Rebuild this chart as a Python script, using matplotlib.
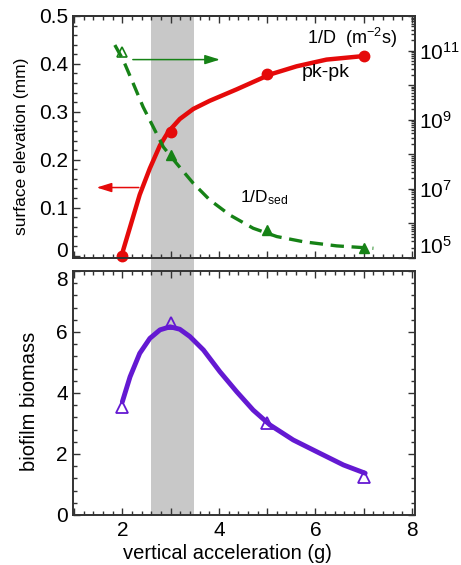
import numpy as np
import matplotlib
matplotlib.use("Agg")
import matplotlib.pyplot as plt
from matplotlib.ticker import MultipleLocator, FuncFormatter, LogLocator, NullFormatter
from matplotlib.transforms import ScaledTranslation

plt.rcParams['font.family'] = ['Liberation Sans', 'DejaVu Sans']
plt.rcParams['mathtext.fontset'] = 'custom'
plt.rcParams['mathtext.rm'] = 'Liberation Sans'
plt.rcParams['mathtext.it'] = 'Liberation Sans:italic'

# Datos medidos
accel = [2, 3, 5, 7]
pkpk = [0.0, 0.258, 0.378, 0.417]                 # mm
inv_D = [10**10.96, 10**7.98, 10**5.81, 10**5.29]  # m^-2 s
biomass = [3.55, 6.29, 3.01, 1.26]

# Curvas de ajuste
pk_fit_x = [1.984, 2.156, 2.36, 2.57, 2.78, 2.95, 3.19, 3.47, 3.81, 4.37, 5.06, 5.61, 6.23, 7.06]
pk_fit_y = [0.0, 0.058, 0.127, 0.182, 0.230, 0.258, 0.285, 0.306, 0.323, 0.347, 0.378, 0.395, 0.409, 0.417]

d_fit_x = [1.845, 2.02, 2.225, 2.43, 2.64, 2.85, 3.12, 3.47, 3.81, 4.23, 4.71, 5.20, 5.75, 6.44, 7.20]
d_fit_log = [11.16, 10.72, 10.05, 9.37, 8.79, 8.21, 7.74, 7.16, 6.68, 6.24, 5.86, 5.62, 5.47, 5.35, 5.28]

bio_fit_x = [2.0, 2.16, 2.36, 2.57, 2.78, 2.99, 3.19, 3.40, 3.68, 4.02, 4.37, 4.71, 5.06, 5.54, 6.02, 6.58, 7.03]
bio_fit_y = [3.71, 4.53, 5.30, 5.79, 6.07, 6.17, 6.09, 5.85, 5.41, 4.70, 4.04, 3.44, 2.95, 2.46, 2.08, 1.64, 1.37]

band = (2.6, 3.48)

red = "#e50a0a"
green = "#168216"
purple = "#6419d2"
spine_c = "#333333"

fig = plt.figure(figsize=(4.61, 5.65), dpi=100)
ax1 = fig.add_axes([0.158, 0.5434, 0.742, 0.4283])
ax3 = fig.add_axes([0.158, 0.0885, 0.742, 0.4319])
ax2 = ax1.twinx()

# Banda gris
ax1.axvspan(*band, ymin=-0.06, ymax=1, color="#c8c8c8", lw=0, zorder=0, clip_on=False)
ax3.axvspan(*band, color="#c8c8c8", lw=0, zorder=0)

# Panel superior: elevacion pk-pk
ax1.plot(pk_fit_x, pk_fit_y, color=red, lw=3.2, solid_capstyle="round", solid_joinstyle="round", zorder=3)
ax1.plot(accel, pkpk, "o", color=red, ms=7.5, zorder=4, clip_on=False)
ax1.annotate("", xy=(1.41, 0.142), xytext=(2.40, 0.142),
             arrowprops=dict(arrowstyle="-|>,head_length=0.9,head_width=0.28", color=red, lw=1.1))

# 1/D en eje logaritmico
ax2.plot(d_fit_x, 10**np.array(d_fit_log), "--", color=green, lw=2.4, dashes=(4, 2.3), zorder=3)
ax2.plot(accel[:1], inv_D[:1], "^", mfc="none", mec=green, ms=7, mew=1.2)
ax2.plot(accel[1:], inv_D[1:], "^", color=green, ms=7, clip_on=False)
ax1.annotate("", xy=(4.08, 0.409), xytext=(2.16, 0.409),
             arrowprops=dict(arrowstyle="-|>,head_length=0.9,head_width=0.28", color=green, lw=1.1))

ax1.text(5.82, 0.455, "1/D  (m$^{-2}$s)", fontsize=13, va="center")
ax1.text(5.72, 0.382, "pk-pk", fontsize=14, va="center")
ax1.text(4.44, 0.12, "1/D$_{\\mathrm{sed}}$", fontsize=12.5, va="center")

ax1.set_xlim(0.975, 8.06)
ax1.set_ylim(-0.005, 0.5)
ax2.set_ylim(1e5, 1e12)
ax2.set_yscale("log")
ax1.set_ylabel("surface elevation (mm)", fontsize=12.5)
ax1.yaxis.label.set_va("center")
ax1.yaxis.set_label_coords(-0.15, 0.463)
ax1.yaxis.set_major_locator(MultipleLocator(0.1))
ax1.yaxis.set_minor_locator(MultipleLocator(0.02))
ax1.yaxis.set_major_formatter(FuncFormatter(lambda v, p: "0" if abs(v) < 1e-9 else f"{v:.1f}"))
ax1.set_xticklabels([])

ax2.yaxis.set_major_locator(LogLocator(base=10, numticks=20))
ax2.yaxis.set_minor_locator(LogLocator(base=10, subs=np.arange(2, 10), numticks=20))
ax2.yaxis.set_minor_formatter(NullFormatter())
ax2.yaxis.set_major_formatter(FuncFormatter(
    lambda v, p: f"10$^{{{int(round(np.log10(v)))}}}$" if int(round(np.log10(v))) % 2 == 1 else ""))

# Panel inferior: biomasa
ax3.plot(bio_fit_x, bio_fit_y, color=purple, lw=3.5, solid_capstyle="round", solid_joinstyle="round", zorder=3)
ax3.plot(accel, biomass, "^", mfc="none", mec=purple, ms=8.5, mew=1.3, zorder=4, clip_on=False)
ax3.set_xlim(0.975, 8.06)
ax3.set_ylim(0, 8)
ax3.set_ylabel("biofilm biomass", fontsize=14.5)
ax3.yaxis.label.set_va("center")
ax3.yaxis.set_label_coords(-0.126, 0.464)
ax3.set_xlabel("vertical acceleration (g)", fontsize=14.5)
ax3.xaxis.set_label_coords(0.453, -0.157)
ax3.xaxis.label.set_va("center")
ax3.yaxis.set_major_locator(MultipleLocator(2))
ax3.yaxis.set_minor_locator(MultipleLocator(0.4))

for ax in (ax1, ax3):
    ax.xaxis.set_major_locator(MultipleLocator(1))
    ax.xaxis.set_minor_locator(MultipleLocator(0.2))
ax3.xaxis.set_major_formatter(FuncFormatter(lambda v, p: f"{int(v)}" if int(round(v)) % 2 == 0 else ""))

for ax in (ax1, ax2, ax3):
    for s in ax.spines.values():
        s.set_color(spine_c)
        s.set_linewidth(1.4)
    ax.tick_params(which="both", direction="in", color=spine_c, labelsize=15, width=1.0)
    ax.tick_params(which="major", length=5)
    ax.tick_params(which="minor", length=3)
ax1.tick_params(which="both", top=True, right=False)
ax2.tick_params(which="both", left=False, right=True, pad=3)
ax3.tick_params(which="both", top=True, right=True)
ax3.tick_params(axis="x", pad=4)

# etiquetas extremas desplazadas hacia dentro, como en el original
fig.canvas.draw()
for t in ax1.yaxis.get_major_ticks():
    if abs(t.get_loc()) < 1e-9:
        t.label1.set_transform(t.label1.get_transform() + ScaledTranslation(0, 6 / 100, fig.dpi_scale_trans))
for t in ax2.yaxis.get_major_ticks():
    if abs(t.get_loc() - 1e5) < 1:
        t.label2.set_va("bottom")
for t in ax3.yaxis.get_major_ticks():
    if abs(t.get_loc() - 8) < 1e-9:
        t.label1.set_va("top")

fig.savefig("out.png", dpi=100)
